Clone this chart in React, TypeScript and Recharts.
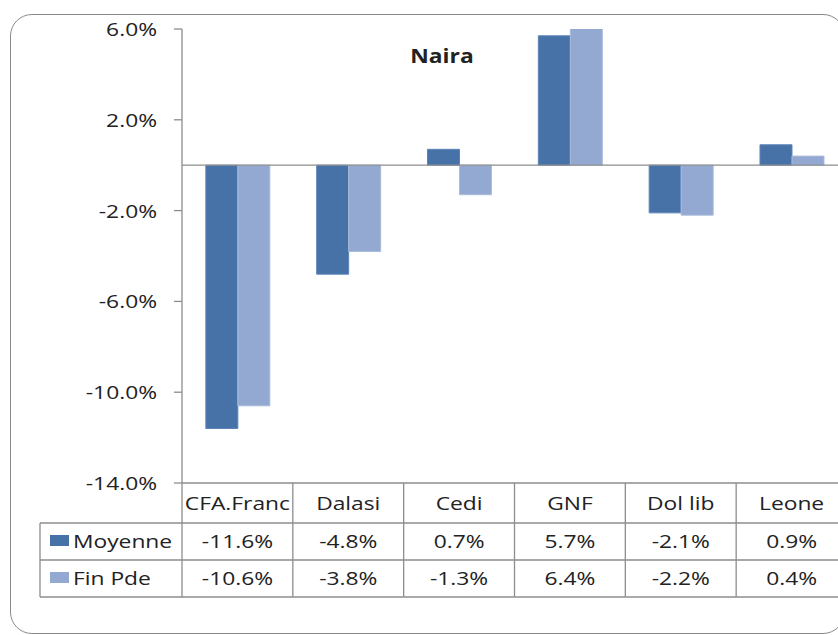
import React from 'react';
import { BarChart, Bar, XAxis, YAxis, ReferenceLine } from 'recharts';

const categories = ['CFA.Franc', 'Dalasi', 'Cedi', 'GNF', 'Dol lib', 'Leone'];
const moyenne = [-11.6, -4.8, 0.7, 5.7, -2.1, 0.9];
const finPde = [-10.6, -3.8, -1.3, 6.4, -2.2, 0.4];
const yTicks = [-14, -10, -6, -2, 2, 6];
const seriesNames = ['Moyenne', 'Fin Pde'];
const title = 'Naira';

const data = categories.map((c, i) => ({ name: c, moyenne: moyenne[i], finPde: finPde[i] }));

const FONT = '"Open Sans", sans-serif';
const SX = 1.2;
const FS = 19;
const TEXT = '#222222';
const GRID = '#8d8d8d';
const C1 = '#4672a8';
const C2 = '#93a9d1';

const fmt = (v: number) => v.toFixed(1) + '%';

function SText({ x, y, anchor = 'middle', children, bold = false, size = FS }: any) {
  return (
    <text
      transform={`translate(${x},${y}) scale(${SX},1)`}
      x={0}
      y={0}
      textAnchor={anchor}
      fontFamily={FONT}
      fontSize={size}
      fontWeight={bold ? 700 : 400}
      fill={TEXT}
    >
      {children}
    </text>
  );
}

function YTick(props: any) {
  const { x, y, payload } = props;
  return <SText x={x} y={y + 7} anchor="end">{fmt(payload.value)}</SText>;
}

function XTick(props: any) {
  const { x, y, payload, width, visibleTicksCount } = props;
  const bw = width && visibleTicksCount ? width / visibleTicksCount : 110.83;
  const l = x - bw / 2;
  const r = x + bw / 2;
  const row = data.find((d) => d.name === payload.value);
  const idx = categories.indexOf(payload.value);
  const rows = [40, 77, 114];
  const sw = 1.3;
  const lx = l - 142;
  return (
    <g>
      {idx === 0 && <line x1={l} x2={l} y1={y} y2={y + 114} stroke={GRID} strokeWidth={sw} />}
      <line x1={r} x2={r} y1={y} y2={y + 114} stroke={GRID} strokeWidth={sw} />
      {rows.map((dy) => (
        <line key={dy} x1={l} x2={r} y1={y + dy} y2={y + dy} stroke={GRID} strokeWidth={sw} />
      ))}
      <SText x={x} y={y + 27}>{payload.value}</SText>
      <SText x={x} y={y + 65}>{row ? fmt(row.moyenne) : ''}</SText>
      <SText x={x} y={y + 102}>{row ? fmt(row.finPde) : ''}</SText>
      {idx === 0 && (
        <g>
          <line x1={lx} x2={l} y1={y + 40} y2={y + 40} stroke={GRID} strokeWidth={sw} />
          <line x1={lx} x2={l} y1={y + 77} y2={y + 77} stroke={GRID} strokeWidth={sw} />
          <line x1={lx} x2={l} y1={y + 114} y2={y + 114} stroke={GRID} strokeWidth={sw} />
          <line x1={lx} x2={lx} y1={y + 40} y2={y + 114} stroke={GRID} strokeWidth={sw} />
          <rect x={l - 132} y={y + 52} width={19} height={11} fill={C1} />
          <SText x={l - 109} y={y + 65} anchor="start">{seriesNames[0]}</SText>
          <rect x={l - 132} y={y + 89} width={19} height={11} fill={C2} />
          <SText x={l - 109} y={y + 102} anchor="start">{seriesNames[1]}</SText>
        </g>
      )}
    </g>
  );
}

export default function App() {
  return (
    <div
      style={{
        position: 'fixed',
        left: 0,
        top: 0,
        width: 838,
        height: 635,
        overflow: 'hidden',
        background: '#fff',
      }}
    >
      <div
        style={{
          position: 'absolute',
          left: 10,
          top: 14,
          width: 835,
          height: 620,
          border: '1.5px solid #8a8a8a',
          borderRadius: 22,
          boxSizing: 'border-box',
        }}
      />
      <div style={{ position: 'absolute', left: 0, top: 0 }}>
        <BarChart
          width={900}
          height={635}
          data={data}
          margin={{ top: 29, right: 53, bottom: 0, left: 0 }}
          barCategoryGap="21.5%"
          barGap={0}
        >
          <XAxis
            dataKey="name"
            height={152}
            axisLine={{ stroke: GRID, strokeWidth: 1.3 }}
            tickLine={false}
            tickSize={0}
            tickMargin={0}
            interval={0}
            tick={<XTick />}
          />
          <YAxis
            width={182}
            domain={[-14, 6]}
            ticks={yTicks}
            allowDataOverflow
            interval={0}
            axisLine={{ stroke: GRID, strokeWidth: 1.3 }}
            tickLine={{ stroke: GRID, strokeWidth: 1.3 }}
            tickSize={8}
            tickMargin={17}
            tick={<YTick />}
          />
          <Bar dataKey="moyenne" name={seriesNames[0]} fill={C1} stroke="#5d84b8" strokeWidth={1} isAnimationActive={false} />
          <Bar dataKey="finPde" name={seriesNames[1]} fill={C2} stroke="#a9bbdb" strokeWidth={1} isAnimationActive={false} />
          <ReferenceLine y={0} stroke={GRID} strokeWidth={1.3} />
        </BarChart>
      </div>
      <svg
        width={838}
        height={635}
        style={{ position: 'absolute', left: 0, top: 0, pointerEvents: 'none' }}
      >
        <SText x={442} y={63} bold>{title}</SText>
      </svg>
    </div>
  );
}
